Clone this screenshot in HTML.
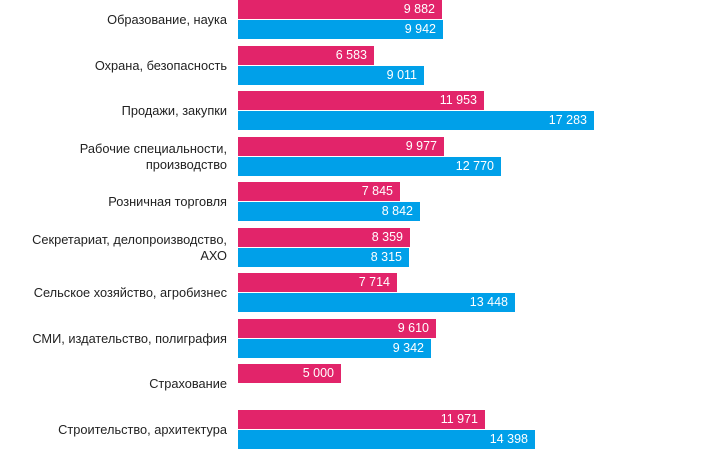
<!DOCTYPE html><html><head><meta charset="utf-8"><style>
body{margin:0;width:707px;height:451px;background:#fff;position:relative;overflow:hidden;font-family:"Liberation Sans",Arial,sans-serif}
.b{position:absolute;left:238px;height:19px;color:#fff;font-size:12.5px;text-align:right;box-sizing:border-box;padding-right:7px;line-height:19px}
.p{background:#e2246a}.c{background:#00a0e9}
.l{position:absolute;right:480px;width:230px;text-align:right;font-size:12.8px;color:#222;line-height:16px}
</style></head><body>
<div id="r"></div>
<script>
var d=[["Образование, наука",9882,9942],["Охрана, безопасность",6583,9011],["Продажи, закупки",11953,17283],["Рабочие специальности,<br>производство",9977,12770],["Розничная торговля",7845,8842],["Секретариат, делопроизводство,<br>АХО",8359,8315],["Сельское хозяйство, агробизнес",7714,13448],["СМИ, издательство, полиграфия",9610,9342],["Страхование",5000,null],["Строительство, архитектура",11971,14398]];
var s=(443-238)/9942,h="";
function f(n){return String(n).replace(/\B(?=(\d{3})+$)/g," ");}
d.forEach(function(r,i){var t=Math.round(i*45.5);
h+='<div class="b p" style="top:'+t+'px;width:'+Math.round(r[1]*s)+'px">'+f(r[1])+'</div>';
if(r[2])h+='<div class="b c" style="top:'+(t+20)+'px;width:'+Math.round(r[2]*s)+'px">'+f(r[2])+'</div>';
var two=r[0].indexOf("<br>")>0;var cy=t+19.5;
h+='<div class="l" style="top:'+(cy-(two?16:8))+'px">'+r[0]+'</div>';});
document.getElementById("r").innerHTML=h;
</script></body></html>
